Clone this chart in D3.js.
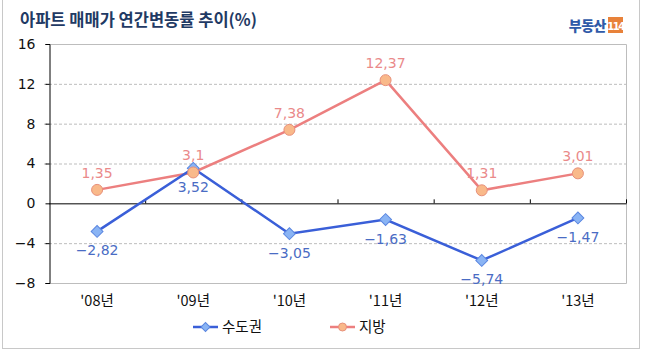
<!DOCTYPE html>
<html><head><meta charset="utf-8">
<script src="https://cdn.jsdelivr.net/npm/d3@7"></script>
<style>body{margin:0;background:#fff}svg{display:block}</style>
</head><body>
<script>
const categories = ["'08년","'09년","'10년","'11년","'12년","'13년"];
const sudogwon = [-2.82, 3.52, -3.05, -1.63, -5.74, -1.47];
const jibang = [1.35, 3.1, 7.38, 12.37, 1.31, 3.01];
const yTicks = [16, 12, 8, 4, 0, -4, -8];
const seriesNames = ["수도권", "지방"];
const title = "아파트 매매가 연간변동률 추이(%)";

(function () {
const W = 646, H = 359;
const svg = d3.select("body").append("svg").attr("width", W).attr("height", H);
const font = "'DejaVu Sans', sans-serif";
const kfont = "'Noto Sans CJK KR', sans-serif";

// outer border
svg.append("rect").attr("x", 2.5).attr("y", -2).attr("width", 637).attr("height", 350.5)
  .attr("fill", "none").attr("stroke", "#c8c8c8").attr("stroke-width", 1);

// title
svg.append("text").attr("x", 20).attr("y", 26).text(title)
  .attr("font-family", kfont).attr("font-weight", "bold").attr("font-size", 16.5)
  .attr("fill", "#1f3a64");

// logo
const logo = svg.append("g");
logo.append("text").attr("x", 606).attr("y", 31).attr("text-anchor", "end").text("부동산")
  .attr("font-family", kfont).attr("font-weight", "900").attr("font-size", 14).attr("fill", "#2f5aa8")
  .attr("letter-spacing", -0.5);
logo.append("rect").attr("x", 608).attr("y", 17).attr("width", 15).attr("height", 16).attr("fill", "#e8823a");
logo.append("text").attr("x", 615.5).attr("y", 29.5).attr("text-anchor", "middle").text("114")
  .attr("font-family", font).attr("font-weight", "bold").attr("font-size", 10).attr("fill", "#fff")
  .attr("letter-spacing", -1.5);

const pl = 49, pr = 626, pt = 44, pb = 283;
const x = d3.scaleBand().domain(categories).range([pl, pr]);
const y = d3.scaleLinear().domain([-8, 16]).range([pb, pt]);

// gridlines
svg.append("g").selectAll("line").data(yTicks.filter(t => t !== 16 && t !== 0 && t !== -8)).join("line")
  .attr("x1", pl - 5).attr("x2", pr).attr("y1", d => y(d) + 0.5).attr("y2", d => y(d) + 0.5)
  .attr("stroke", "#bdbdbd").attr("stroke-dasharray", "3,2");

// plot frame
svg.append("path").attr("d", `M${pl},${pt + 0.5}H${pr + 0.5}V${pb + 0.5}H${pl}`)
  .attr("fill", "none").attr("stroke", "#bdbdbd");

// y axis
const yAxis = svg.append("g").attr("transform", `translate(${pl + 0.5},0)`)
  .call(d3.axisLeft(y).tickValues(yTicks).tickSize(4).tickPadding(10)
    .tickFormat(d => d < 0 ? "−" + Math.abs(d) : d));
yAxis.select(".domain").attr("stroke", "#000");
yAxis.selectAll(".tick line").attr("stroke", "#000");
yAxis.selectAll("text").attr("font-family", font).attr("font-size", 14).attr("fill", "#111");

// zero line with category ticks
const xAxis = svg.append("g").attr("transform", `translate(0,${y(0) + 0.5})`)
  .call(d3.axisTop(x).tickSize(0).tickFormat(""));
xAxis.select(".domain").attr("stroke", "#000").attr("d", `M${pl},0H${pr + 0.5}`);
svg.append("g").selectAll("line").data(categories).join("line")
  .attr("x1", d => x(d) + x.bandwidth() + 0.5).attr("x2", d => x(d) + x.bandwidth() + 0.5)
  .attr("y1", y(0)).attr("y2", y(0) - 4).attr("stroke", "#000");

// category labels
svg.append("g").selectAll("text").data(categories).join("text")
  .attr("x", d => x(d) + x.bandwidth() / 2).attr("y", 306).attr("text-anchor", "middle")
  .text(d => d).attr("font-family", kfont).attr("font-size", 14.5).attr("fill", "#111");

const cx = (d, i) => x(categories[i]) + x.bandwidth() / 2;
const fmt = v => String(v).replace(".", ",").replace("-", "−");

const blue = "#3a5fd8", blueMark = "#8ab4f4", blueLab = "#4a6cc4";
const red = "#ec7f7f", redMark = "#f9b98a", redStroke = "#e8907a", redLab = "#ea8a8a";

const line = d3.line().x((d, i) => cx(d, i)).y(d => y(d));

svg.append("path").datum(jibang).attr("d", line).attr("fill", "none")
  .attr("stroke", red).attr("stroke-width", 2.5);
svg.append("path").datum(sudogwon).attr("d", line).attr("fill", "none")
  .attr("stroke", blue).attr("stroke-width", 2.5);

svg.append("g").selectAll("path").data(sudogwon).join("path")
  .attr("transform", (d, i) => `translate(${cx(d, i)},${y(d)}) rotate(45)`)
  .attr("d", d3.symbol().type(d3.symbolSquare).size(70))
  .attr("fill", blueMark).attr("stroke", "#5a86e0").attr("stroke-width", 1);
svg.append("g").selectAll("circle").data(jibang).join("circle")
  .attr("cx", cx).attr("cy", d => y(d)).attr("r", 5.5)
  .attr("fill", redMark).attr("stroke", redStroke).attr("stroke-width", 1);

svg.append("g").selectAll("text").data(jibang).join("text")
  .attr("x", cx).attr("y", d => y(d) - 12).attr("text-anchor", "middle")
  .text(fmt).attr("font-family", font).attr("font-size", 14).attr("fill", redLab);
svg.append("g").selectAll("text").data(sudogwon).join("text")
  .attr("x", cx).attr("y", d => y(d) + 24).attr("text-anchor", "middle")
  .text(fmt).attr("font-family", font).attr("font-size", 14).attr("fill", blueLab);

const leg = [
  {name: seriesNames[0], x: 193, color: blue},
  {name: seriesNames[1], x: 330, color: red}
];
const lg = svg.append("g").selectAll("g").data(leg).join("g")
  .attr("transform", d => `translate(${d.x},327)`);
lg.append("line").attr("x1", 0).attr("x2", 25).attr("stroke", d => d.color).attr("stroke-width", 2.5);
lg.filter((d, i) => i === 0).append("path").attr("transform", "translate(12.5,0) rotate(45)")
  .attr("d", d3.symbol().type(d3.symbolSquare).size(40)).attr("fill", blueMark).attr("stroke", "#5a86e0");
lg.filter((d, i) => i === 1).append("circle").attr("cx", 12.5).attr("r", 4)
  .attr("fill", redMark).attr("stroke", redStroke);
lg.append("text").attr("x", 29).attr("y", 5).text(d => d.name)
  .attr("font-family", kfont).attr("font-size", 14.5).attr("fill", "#111");
})();
</script>
</body></html>
